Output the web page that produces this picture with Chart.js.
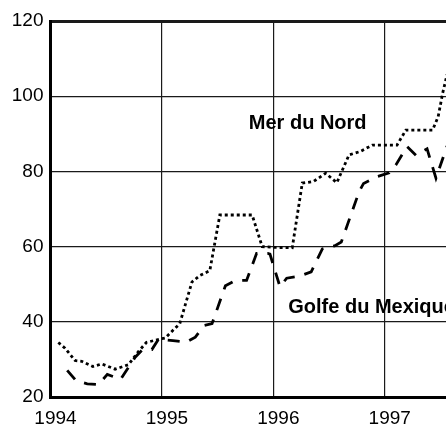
<!DOCTYPE html>
<html><head><meta charset="utf-8">
<script src="https://cdn.jsdelivr.net/npm/chart.js@4"></script>
<style>html,body{margin:0;padding:0;background:#fff;overflow:hidden}canvas{display:block}</style>
</head><body>
<canvas id="c" width="446" height="428"></canvas>
<script>
const xTicks = [1994, 1995, 1996, 1997];
const yTicks = [20, 40, 60, 80, 100, 120];
const seriesNames = ['Mer du Nord', 'Golfe du Mexique'];

const northSeaX = [1994.07, 1994.13, 1994.22, 1994.28, 1994.38, 1994.46, 1994.58, 1994.70, 1994.79, 1994.86, 1994.98, 1995.03, 1995.16, 1995.27, 1995.34, 1995.43, 1995.52, 1995.81, 1995.90, 1996.00, 1996.17, 1996.26, 1996.36, 1996.47, 1996.57, 1996.68, 1996.78, 1996.89, 1997.11, 1997.19, 1997.43, 1997.48, 1997.52, 1997.56];
const northSea  = [34.5, 33.0, 29.7, 29.5, 28.1, 28.8, 27.4, 28.6, 32.1, 34.5, 35.4, 35.7, 39.5, 50.6, 52.3, 53.6, 68.4, 68.4, 60.0, 59.8, 59.7, 76.9, 77.3, 79.5, 77.0, 84.4, 85.3, 87.0, 87.0, 91.0, 91.0, 94.6, 100.8, 105.8];

const gulfX = [1994.15, 1994.23, 1994.33, 1994.43, 1994.51, 1994.63, 1994.76, 1994.82, 1994.91, 1994.97, 1995.10, 1995.22, 1995.30, 1995.38, 1995.45, 1995.57, 1995.66, 1995.76, 1995.85, 1995.95, 1995.97, 1996.06, 1996.12, 1996.24, 1996.34, 1996.44, 1996.55, 1996.61, 1996.77, 1996.81, 1996.93, 1997.04, 1997.10, 1997.20, 1997.28, 1997.38, 1997.46, 1997.56];
const gulf  = [27.1, 24.3, 23.5, 23.3, 26.0, 24.7, 30.6, 32.4, 32.6, 35.4, 35.0, 34.6, 35.9, 39.0, 39.5, 49.6, 51.0, 51.0, 58.2, 58.2, 58.0, 49.3, 51.6, 52.2, 53.3, 59.4, 60.2, 61.2, 74.6, 76.8, 78.6, 79.6, 81.7, 86.6, 84.3, 86.0, 78.2, 86.8];

const FONT = '"Liberation Sans", Arial, Helvetica, sans-serif';

const textLabels = {
  id: 'textLabels',
  afterDatasetsDraw(chart) {
    const {ctx, scales: {x, y}} = chart;
    ctx.save();
    ctx.font = 'bold 20px ' + FONT;
    ctx.fillStyle = '#000';
    ctx.textBaseline = 'alphabetic';
    ctx.textAlign = 'left';
    ctx.fillText(seriesNames[0], x.getPixelForValue(1995.78), y.getPixelForValue(91.2));
    ctx.fillText(seriesNames[1], x.getPixelForValue(1996.134), y.getPixelForValue(42.3));
    ctx.restore();
  }
};

new Chart(document.getElementById('c'), {
  type: 'line',
  data: {
    datasets: [
      {
        label: seriesNames[0],
        data: northSeaX.map((v, i) => ({x: v, y: northSea[i]})),
        borderColor: '#000', borderWidth: 2.8, borderDash: [3, 3],
        pointRadius: 0, tension: 0, fill: false
      },
      {
        label: seriesNames[1],
        data: gulfX.map((v, i) => ({x: v, y: gulf[i]})),
        borderColor: '#000', borderWidth: 2.8, borderDash: [12, 10],
        pointRadius: 0, tension: 0, fill: false
      }
    ]
  },
  options: {
    responsive: false, animation: false, devicePixelRatio: 1,
    layout: {padding: {top: 21, left: 0, right: 0, bottom: 0}},
    plugins: {legend: {display: false}, tooltip: {enabled: false}},
    scales: {
      x: {
        type: 'linear', min: 1994, max: 1997.55,
        afterBuildTicks: s => { s.ticks = xTicks.map(v => ({value: v})); },
        afterFit: s => { s.height = 31; },
        grid: {color: '#1a1a1a', lineWidth: 1.2, drawTicks: false},
        border: {display: true, color: '#000', width: 3},
        ticks: {color: '#000', font: {family: FONT, size: 19}, padding: 10, labelOffset: 5, maxRotation: 0, autoSkip: false, callback: v => String(v)}
      },
      y: {
        type: 'linear', min: 20, max: 120,
        afterBuildTicks: s => { s.ticks = yTicks.map(v => ({value: v})); },
        afterFit: s => { s.width = 50.5; },
        grid: {color: '#1a1a1a', lineWidth: c => (c.tick && c.tick.value === 120) ? 3 : 1.2, drawTicks: false},
        border: {display: true, color: '#000', width: 3},
        ticks: {color: '#000', font: {family: FONT, size: 19}, padding: 7, autoSkip: false, callback: v => String(v)}
      }
    }
  },
  plugins: [textLabels]
});
</script>
</body></html>
